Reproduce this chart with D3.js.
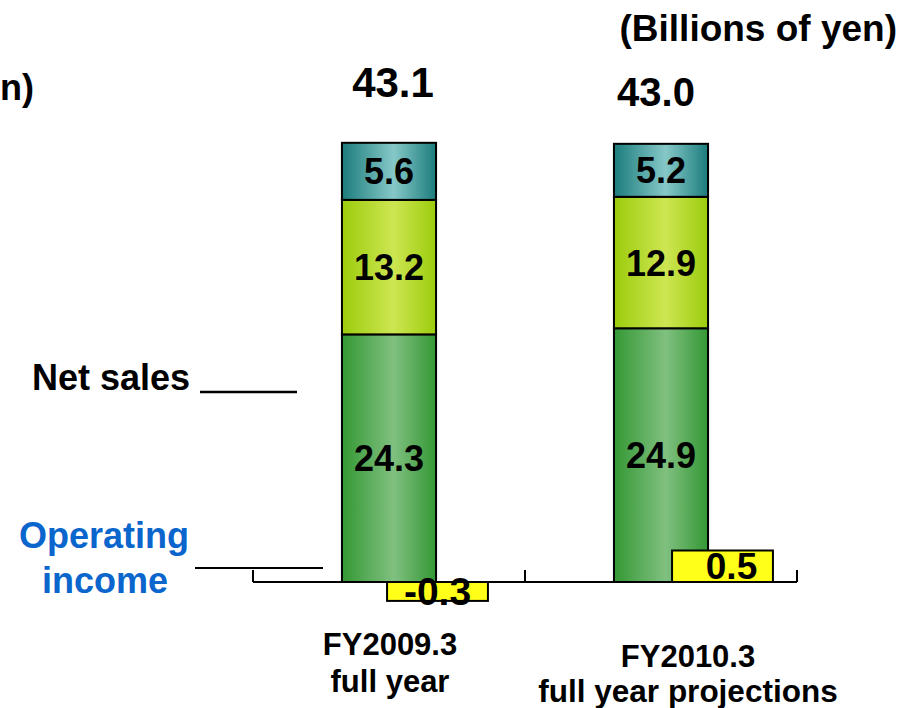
<!DOCTYPE html>
<html>
<head>
<meta charset="utf-8">
<script src="https://cdn.jsdelivr.net/npm/d3@7"></script>
<style>
  body { margin: 0; background: #fff; }
  text { font-family: Arial, "Liberation Sans", sans-serif; font-weight: bold; }
</style>
</head>
<body>
<div id="chart"></div>
<script>
// data (billions of yen)
var categories = ["FY2009.3", "FY2010.3"];
var catLine2 = ["full year", "full year projections"];
var seg1 = [24.3, 24.9];   // bottom (green)
var seg2 = [13.2, 12.9];   // middle (lime)
var seg3 = [5.6, 5.2];     // top (teal)
var totals = ["43.1", "43.0"];
var opIncome = [-0.3, 0.5];

var width = 913, height = 708;
var svg = d3.select("#chart").append("svg")
    .attr("width", width)
    .attr("height", height);

// gradients for the bars
var defs = svg.append("defs");
function grad(id, edge, mid) {
  var g = defs.append("linearGradient").attr("id", id)
    .attr("x1", "0").attr("x2", "1").attr("y1", "0").attr("y2", "0");
  g.append("stop").attr("offset", "0").attr("stop-color", edge);
  g.append("stop").attr("offset", "0.55").attr("stop-color", mid);
  g.append("stop").attr("offset", "1").attr("stop-color", edge);
}
grad("gGreen", "#349834", "#80c080");
grad("gLime", "#9ccc0c", "#cde652");
grad("gTeal", "#1c7c7c", "#86c8c8");

// scales
var x = d3.scaleBand()
    .domain(categories)
    .range([253, 797])
    .paddingInner(0.654)
    .paddingOuter(0.327);

var xOp = d3.scaleBand()
    .domain(categories)
    .range([295, 865])
    .paddingInner(0.646)
    .paddingOuter(0.323);

var xLab = d3.scalePoint()
    .domain(categories)
    .range([241, 837])
    .padding(0.5);

var y = d3.scaleLinear().domain([0, 45]).range([582, 582 - 45 * 10.19]);
var yOp = d3.scaleLinear().domain([0, 1]).range([582, 519]);

// stacked net sales
var rows = categories.map(function(c, i) {
  return { cat: c, s1: seg1[i], s2: seg2[i], s3: seg3[i] };
});
var keys = ["s1", "s2", "s3"];
var fills = { s1: "url(#gGreen)", s2: "url(#gLime)", s3: "url(#gTeal)" };
var stacked = d3.stack().keys(keys)(rows);

var layers = svg.append("g")
  .selectAll("g")
  .data(stacked)
  .enter().append("g")
    .attr("fill", function(d) { return fills[d.key]; });

layers.selectAll("rect")
  .data(function(d) { return d; })
  .enter().append("rect")
    .attr("x", function(d) { return x(d.data.cat); })
    .attr("y", function(d) { return y(d[1]); })
    .attr("width", x.bandwidth())
    .attr("height", function(d) { return y(d[0]) - y(d[1]); })
    .attr("stroke", "#000")
    .attr("stroke-width", 2);

// axis line with ticks
var ax = svg.append("g").attr("stroke", "#000").attr("stroke-width", 2);
ax.append("line").attr("x1", 253).attr("x2", 797).attr("y1", 582).attr("y2", 582);
var tickXs = [253, 797].concat([x.range()[0] + (x.range()[1] - x.range()[0]) / 2]);
ax.selectAll(".tk").data(tickXs).enter().append("line")
    .attr("x1", function(d) { return d; }).attr("x2", function(d) { return d; })
    .attr("y1", 570).attr("y2", 582);

// operating income bars
svg.append("g").selectAll("rect")
  .data(opIncome)
  .enter().append("rect")
    .attr("x", function(d, i) { return xOp(categories[i]); })
    .attr("y", function(d) { return yOp(Math.max(0, d)); })
    .attr("width", xOp.bandwidth())
    .attr("height", function(d) { return Math.abs(yOp(d) - yOp(0)); })
    .attr("fill", "#ffff1a")
    .attr("stroke", "#000")
    .attr("stroke-width", 2);

// segment value labels
layers.selectAll("text")
  .data(function(d) { return d; })
  .enter().append("text")
    .attr("x", function(d) { return x(d.data.cat) + x.bandwidth() / 2; })
    .attr("y", function(d) { return (y(d[0]) + y(d[1])) / 2 + 13; })
    .attr("text-anchor", "middle")
    .attr("font-size", 36)
    .attr("fill", "#000")
    .text(function(d) { return (d[1] - d[0]).toFixed(1); });

// operating income labels
svg.append("g").selectAll("text")
  .data(opIncome)
  .enter().append("text")
    .attr("x", function(d, i) { return xOp(categories[i]) + xOp.bandwidth() / 2 + (d > 0 ? 9 : 0); })
    .attr("y", function(d) { return d < 0 ? yOp(d) + 4 : yOp(d / 2) + 13; })
    .attr("text-anchor", "middle")
    .attr("font-size", function(d) { return d < 0 ? 39 : 37; })
    .attr("fill", "#000")
    .text(function(d) { return d.toFixed(1); });

// totals above bars
svg.append("g").selectAll("text")
  .data(totals)
  .enter().append("text")
    .attr("x", function(d, i) { return x(categories[i]) + x.bandwidth() / 2 + 4 - i * 9; })
    .attr("y", function(d, i) { return y(+d) - 46 + i * 8; })
    .attr("text-anchor", "middle")
    .attr("font-size", function(d, i) { return 42 - i * 2; })
    .text(function(d) { return d; });

// category labels, two lines each
var cl = svg.append("g").selectAll("g")
  .data(categories)
  .enter().append("g")
    .attr("text-anchor", "middle")
    .attr("font-size", 31);
cl.append("text")
    .attr("x", function(d) { return xLab(d); })
    .attr("y", function(d, i) { return 655 + i * 12; })
    .text(function(d) { return d; });
cl.append("text")
    .attr("x", function(d) { return xLab(d); })
    .attr("y", function(d, i) { return 692 + i * 10; })
    .attr("font-size", function(d, i) { return 31 + i * 0.5; })
    .text(function(d, i) { return catLine2[i]; });

// unit notes
svg.append("text").attr("x", 897).attr("y", 41).attr("text-anchor", "end")
    .attr("font-size", 37).text("(Billions of yen)");
svg.append("text").attr("x", 34).attr("y", 100).attr("text-anchor", "end")
    .attr("font-size", 36).text("n)");

// side labels
svg.append("text").attr("x", 32).attr("y", 390).attr("font-size", 36).text("Net sales");
svg.append("line").attr("x1", 200).attr("x2", 297).attr("y1", 392).attr("y2", 392)
    .attr("stroke", "#000").attr("stroke-width", 2.5);

var oi = svg.append("text").attr("text-anchor", "middle").attr("font-size", 36)
    .attr("fill", "#0a66cc");
oi.append("tspan").attr("x", 104).attr("y", 548).text("Operating");
oi.append("tspan").attr("x", 105).attr("y", 593).text("income");
svg.append("line").attr("x1", 195).attr("x2", 323).attr("y1", 568).attr("y2", 568)
    .attr("stroke", "#000").attr("stroke-width", 2);
</script>
</body>
</html>
